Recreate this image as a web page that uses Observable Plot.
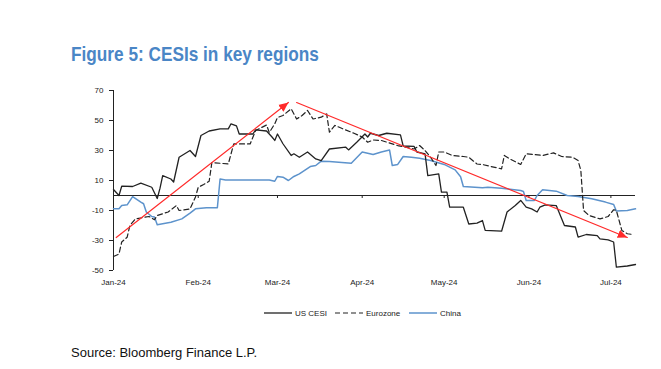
<!DOCTYPE html>
<html>
<head>
<meta charset="utf-8">
<script src="https://cdn.jsdelivr.net/npm/d3@7"></script>
<script src="https://cdn.jsdelivr.net/npm/@observablehq/plot@0.6"></script>
<style>
  html, body { margin: 0; padding: 0; background: #fff; }
  #wrap { position: relative; width: 661px; height: 369px; overflow: hidden; font-family: "Liberation Sans", Arial, sans-serif; }
  #title { position: absolute; left: 71px; top: 43px; font-size: 21px; line-height: 21px; font-weight: bold; color: #4a86c6; white-space: nowrap; transform: scaleX(0.82); transform-origin: 0 0; }
  #chart { position: absolute; left: 0; top: 72px; }
  #legend { position: absolute; left: 0; top: 306px; width: 661px; height: 14px; font-size: 8px; color: #222; white-space: nowrap; }
  #legend .item { position: absolute; top: 0; height: 14px; display: flex; align-items: center; }
  #legend svg { margin-right: 3px; }
  #source { position: absolute; left: 71px; top: 346px; font-size: 13px; line-height: 13px; color: #111; white-space: nowrap; }
</style>
</head>
<body>
<div id="wrap">
  <div id="title">Figure 5: CESIs in key regions</div>
  <div id="chart"></div>
  <div id="legend"></div>
  <div id="source">Source: Bloomberg Finance L.P.</div>
</div>
<script>
// ---------- data ----------
const seriesNames = ["US CESI", "Eurozone", "China"];

const usDates = ["2024-01-01","2024-01-03","2024-01-04","2024-01-08","2024-01-11","2024-01-15","2024-01-17","2024-01-18","2024-01-19","2024-01-22","2024-01-23","2024-01-25","2024-01-29","2024-01-31","2024-02-02","2024-02-05","2024-02-09","2024-02-12","2024-02-13","2024-02-15","2024-02-16","2024-02-21","2024-02-22","2024-02-26","2024-02-28","2024-02-29","2024-03-01","2024-03-03","2024-03-06","2024-03-07","2024-03-09","2024-03-12","2024-03-15","2024-03-17","2024-03-20","2024-03-26","2024-03-27","2024-03-30","2024-04-02","2024-04-03","2024-04-04","2024-04-07","2024-04-10","2024-04-15","2024-04-16","2024-04-20","2024-04-21","2024-04-24","2024-04-25","2024-04-29","2024-04-30","2024-05-02","2024-05-03","2024-05-08","2024-05-10","2024-05-13","2024-05-15","2024-05-16","2024-05-22","2024-05-24","2024-05-27","2024-05-29","2024-05-31","2024-06-02","2024-06-04","2024-06-05","2024-06-07","2024-06-11","2024-06-14","2024-06-18","2024-06-19","2024-06-22","2024-06-26","2024-06-27","2024-06-30","2024-07-02","2024-07-03","2024-07-07","2024-07-10"];
const usValues = [4,0,6.2,6,8.2,5.5,-2,4.7,13.3,11,9,25.5,30,26,40,43,44.4,44.4,47.8,46.4,41,41,43.8,43,39,36.7,41,34.5,26.7,27.8,25.5,29,24.4,23.3,31,32.2,30.4,35.5,41,39,41.5,40,41.5,40.4,33,32.7,29,27.8,13.3,14.4,2.2,2.2,-7.8,-7.8,-19,-18.4,-16.7,-23.3,-23.8,-11,-6.7,-3.3,-7.8,-8.9,-11,-7.8,-6.2,-6.7,-20,-21,-27.8,-26,-26.7,-28.9,-29.6,-31,-47.8,-47,-46];

const ezDates = ["2024-01-01","2024-01-03","2024-01-04","2024-01-06","2024-01-07","2024-01-09","2024-01-14","2024-01-16","2024-01-17","2024-01-21","2024-01-24","2024-01-25","2024-01-29","2024-01-31","2024-02-01","2024-02-03","2024-02-05","2024-02-06","2024-02-12","2024-02-14","2024-02-20","2024-02-22","2024-02-26","2024-02-27","2024-02-29","2024-03-01","2024-03-03","2024-03-06","2024-03-08","2024-03-10","2024-03-12","2024-03-14","2024-03-17","2024-03-19","2024-03-20","2024-03-22","2024-03-25","2024-03-29","2024-04-01","2024-04-03","2024-04-05","2024-04-08","2024-04-14","2024-04-17","2024-04-20","2024-04-22","2024-04-24","2024-04-26","2024-04-28","2024-04-29","2024-05-01","2024-05-04","2024-05-08","2024-05-10","2024-05-13","2024-05-15","2024-05-18","2024-05-22","2024-05-23","2024-05-25","2024-05-29","2024-05-31","2024-06-03","2024-06-06","2024-06-10","2024-06-13","2024-06-17","2024-06-19","2024-06-20","2024-06-21","2024-06-23","2024-06-27","2024-06-30","2024-07-02","2024-07-03","2024-07-05","2024-07-07","2024-07-09"];
const ezValues = [-40.7,-39,-31,-27.8,-20,-15.6,-14,-16.2,-13.3,-11,-6.7,-10,-9,-1,5.5,7.3,9.5,22,21,34.4,34.4,43.3,47,42,47.8,52,53.3,57.8,51,53.3,56.7,51,52.2,54.4,42.2,46.7,44.4,41.5,39,35.5,37,36.7,33.3,32.2,31,33.3,30,25.5,20,29,29,26.7,26,25.5,21,20.7,19.3,17.8,26.7,24.4,20.7,27.8,27.3,26.7,28.4,26,25.5,23.3,16.7,-10,-13.3,-15.6,-14,-9.5,-10,-23.3,-25.5,-26];

const cnDates = ["2024-01-01","2024-01-03","2024-01-04","2024-01-06","2024-01-08","2024-01-11","2024-01-12","2024-01-13","2024-01-15","2024-01-16","2024-01-17","2024-01-22","2024-01-26","2024-01-29","2024-01-31","2024-02-04","2024-02-08","2024-02-09","2024-02-11","2024-02-27","2024-02-29","2024-03-01","2024-03-03","2024-03-05","2024-03-07","2024-03-09","2024-03-13","2024-03-15","2024-03-17","2024-03-20","2024-03-28","2024-04-01","2024-04-03","2024-04-05","2024-04-08","2024-04-11","2024-04-12","2024-04-14","2024-04-16","2024-04-19","2024-04-22","2024-04-26","2024-05-01","2024-05-05","2024-05-07","2024-05-08","2024-05-15","2024-05-17","2024-05-22","2024-05-29","2024-05-30","2024-05-31","2024-06-03","2024-06-04","2024-06-06","2024-06-11","2024-06-15","2024-06-19","2024-06-24","2024-06-29","2024-07-02","2024-07-03","2024-07-07","2024-07-10"];
const cnValues = [-8.9,-8.9,-6.7,-6.2,-0.7,-4.4,-5.5,-11,-14,-14.4,-19.5,-17.8,-15.6,-11.8,-8.9,-8.2,-8.2,11,10.4,10.4,9.5,12.7,12.2,10,12.7,14.4,19.3,20,22.9,22.7,21.5,29,28.2,27.3,29,30.4,20,20.7,26,25.5,24.9,23.3,20.7,17.1,12.5,6,5.1,5.5,4.9,3.3,2.7,-3.3,-3.3,0,3.8,2.9,0,-0.7,-2.2,-4.4,-6,-10.4,-10,-8.9];

// red trend arrows: start/end dates and values
const arrowStartDates = ["2024-01-02","2024-03-08"];
const arrowStartValues = [-28, 62];
const arrowEndDates = ["2024-03-05","2024-07-07"];
const arrowEndValues = [62, -28];

// axes
const xTickDates = ["2024-01-01","2024-02-01","2024-03-01","2024-04-01","2024-05-01","2024-06-01","2024-07-01"];
const xTickLabels = ["Jan-24","Feb-24","Mar-24","Apr-24","May-24","Jun-24","Jul-24"];
const yTicks = [-50,-30,-10,10,30,50,70];
const yTickLabels = ["-50","-30","-10","10","30","50","70"];
const xDomain = ["2024-01-01","2024-07-10"];
const yDomain = [-50, 70];

// ---------- build ----------
const P = s => new Date(s);
const toRows = (dates, values, name) => dates.map((d, i) => ({date: P(d), value: values[i], series: name}));
const us = toRows(usDates, usValues, seriesNames[0]);
const ez = toRows(ezDates, ezValues, seriesNames[1]);
const cn = toRows(cnDates, cnValues, seriesNames[2]);
const arrows = arrowStartDates.map((d, i) => [
  {date: P(d), value: arrowStartValues[i], id: i},
  {date: P(arrowEndDates[i]), value: arrowEndValues[i], id: i}
]).flat();
const tickMap = new Map(xTickDates.map((d, i) => [+P(d), xTickLabels[i]]));
const yTickMap = new Map(yTicks.map((v, i) => [v, yTickLabels[i]]));

function triMarker(color, context) {
  const doc = (context && context.document) || document;
  const m = d3.select(doc.createElementNS("http://www.w3.org/2000/svg", "marker"))
    .attr("viewBox", "-10 -5 10 10")
    .attr("markerWidth", 8)
    .attr("markerHeight", 8)
    .attr("orient", "auto")
    .attr("fill", color)
    .attr("stroke", "none");
  m.append("path").attr("d", "M-10,-4.5L0,0L-10,4.5Z");
  return m.node();
}

const chart = Plot.plot({
  width: 661,
  height: 218,
  marginLeft: 113,
  marginRight: 26,
  marginTop: 18,
  marginBottom: 20,
  style: {fontFamily: '"Liberation Sans", Arial, sans-serif', fontSize: "8px", color: "#222", background: "white", overflow: "visible"},
  x: {type: "utc", domain: xDomain.map(P)},
  y: {domain: yDomain},
  marks: [
    Plot.ruleX([P(xDomain[0])], {y1: yDomain[0], y2: yDomain[1], stroke: "#222", strokeWidth: 1}),
    Plot.axisY({ticks: yTicks, tickFormat: v => yTickMap.get(v), tickSize: 4, tickPadding: 6, stroke: "#222", fill: "#222", label: null}),
    Plot.axisX({ticks: xTickDates.map(P), tickFormat: d => tickMap.get(+d), tickSize: 0, tickPadding: 9, fill: "#222", label: null}),
    Plot.ruleY([0], {stroke: "#222", strokeWidth: 1}),
    Plot.ruleX(xTickDates.slice(1).map(P), {y1: 0, y2: -2, stroke: "#222", strokeWidth: 1}),
    Plot.line(cn, {x: "date", y: "value", stroke: "#5d93cc", strokeWidth: 1.5}),
    Plot.line(ez, {x: "date", y: "value", stroke: "#222", strokeWidth: 1.2, strokeDasharray: "5,3"}),
    Plot.line(us, {x: "date", y: "value", stroke: "#222", strokeWidth: 1.3}),
    Plot.line(arrows, {x: "date", y: "value", z: "id", stroke: "#ff2a2a", strokeWidth: 1.2, markerEnd: triMarker})
  ]
});
document.getElementById("chart").appendChild(chart);

// legend
const legendStyles = [
  {stroke: "#222", dash: null, width: 1.3, left: 264},
  {stroke: "#222", dash: "5,3", width: 1.2, left: 335},
  {stroke: "#5d93cc", dash: null, width: 1.5, left: 409}
];
const legend = d3.select("#legend");
seriesNames.forEach((name, i) => {
  const st = legendStyles[i];
  const item = legend.append("div").attr("class", "item").style("left", st.left + "px");
  const s = item.append("svg").attr("width", 28).attr("height", 6);
  s.append("line").attr("x1", 0).attr("x2", 28).attr("y1", 3).attr("y2", 3)
    .attr("stroke", st.stroke).attr("stroke-width", st.width)
    .attr("stroke-dasharray", st.dash);
  item.append("span").text(name);
});
</script>
</body>
</html>
